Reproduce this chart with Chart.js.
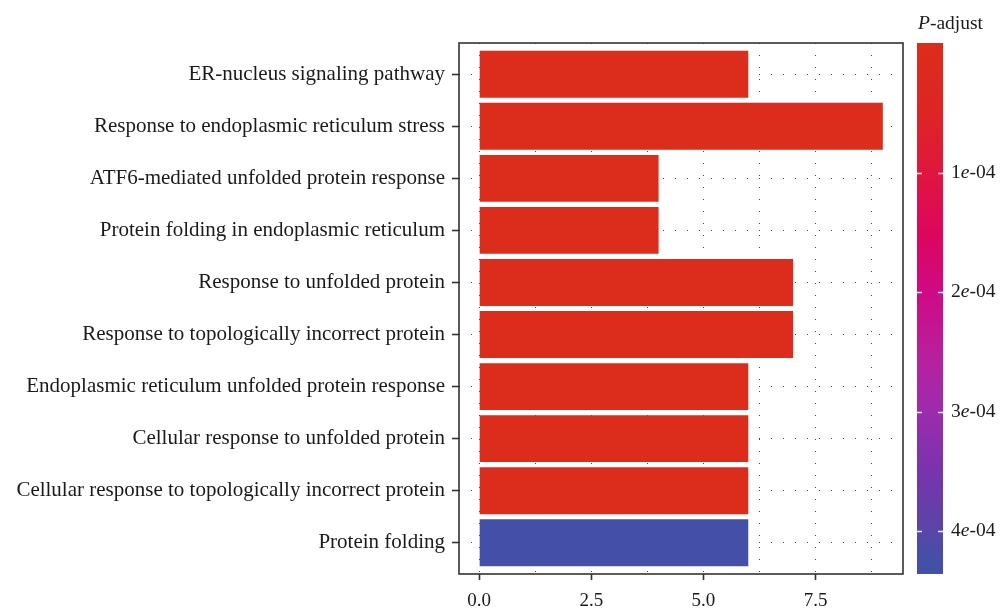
<!DOCTYPE html>
<html>
<head>
<meta charset="utf-8">
<title>GO enrichment bar chart</title>
<script src="https://cdn.jsdelivr.net/npm/chart.js@4.4.1/dist/chart.umd.min.js"></script>
<style>
  html, body { margin: 0; padding: 0; background: #ffffff; }
  #wrap { width: 1002px; height: 614px; }
</style>
</head>
<body>
<div id="wrap"><canvas id="chart" width="1002" height="614"></canvas></div>
<script>
// GO terms, listed top to bottom
const terms = [
  'ER-nucleus signaling pathway',
  'Response to endoplasmic reticulum stress',
  'ATF6-mediated unfolded protein response',
  'Protein folding in endoplasmic reticulum',
  'Response to unfolded protein',
  'Response to topologically incorrect protein',
  'Endoplasmic reticulum unfolded protein response',
  'Cellular response to unfolded protein',
  'Cellular response to topologically incorrect protein',
  'Protein folding'
];

// gene counts per term
const counts = [6, 9, 4, 4, 7, 7, 6, 6, 6, 6];

// adjusted p-values per term
const pAdjust = [2.3e-6, 2.3e-6, 3.1e-6, 3.1e-6, 2.6e-6, 2.6e-6, 4.0e-6, 4.0e-6, 4.0e-6, 4.25e-4];

// count axis ticks (labelled) and the extra grid positions between them
const countTicks = [0, 2.5, 5, 7.5];
const countMinorTicks = [1.25, 3.75, 6.25, 8.75];

// colour bar breaks
const pTicks = [1e-4, 2e-4, 3e-4, 4e-4];
const pTickLabels = ['1e-04', '2e-04', '3e-04', '4e-04'];

// colour ramp from low p (red) to high p (blue)
const rampStops = [
  [0.00, [220, 44, 28]],
  [0.12, [222, 36, 38]],
  [0.23, [224, 22, 62]],
  [0.36, [220, 6, 96]],
  [0.47, [207, 10, 134]],
  [0.60, [184, 32, 158]],
  [0.70, [158, 43, 173]],
  [0.82, [122, 51, 172]],
  [0.94, [90, 69, 168]],
  [1.00, [68, 80, 168]]
];

const pMin = Math.min(...pAdjust);
const pMax = Math.max(...pAdjust);

function rampColor(f) {
  f = Math.max(0, Math.min(1, f));
  for (let i = 1; i < rampStops.length; i++) {
    const [f1, c1] = rampStops[i];
    const [f0, c0] = rampStops[i - 1];
    if (f <= f1) {
      const t = (f - f0) / (f1 - f0);
      const c = c0.map((v, k) => Math.round(v + (c1[k] - v) * t));
      return `rgb(${c[0]},${c[1]},${c[2]})`;
    }
  }
  const c = rampStops[rampStops.length - 1][1];
  return `rgb(${c[0]},${c[1]},${c[2]})`;
}
const pFrac = p => (p - pMin) / (pMax - pMin);

const FONT = "'Liberation Serif', 'Times New Roman', serif";
const INK = '#1a1a1a';
const GRID = 'rgba(50,50,50,0.9)';

// panel frame drawn on all four sides
const framePlugin = {
  id: 'frame',
  afterDatasetsDraw(chart) {
    const a = chart.chartArea;
    const ctx = chart.ctx;
    ctx.save();
    ctx.strokeStyle = '#333333';
    ctx.lineWidth = 1.6;
    ctx.strokeRect(a.left, a.top, a.right - a.left, a.bottom - a.top);
    ctx.restore();
  }
};

// continuous colour legend for the adjusted p-value
const colorBarPlugin = {
  id: 'colorBar',
  afterDraw(chart) {
    const a = chart.chartArea;
    const ctx = chart.ctx;
    const x0 = a.right + 14, w = 26;
    const top = a.top, h = a.bottom - a.top;
    const yOf = p => top + h * (0.025 + 0.95 * pFrac(p));

    ctx.save();
    const g = ctx.createLinearGradient(0, top, 0, top + h);
    rampStops.forEach(([f]) => g.addColorStop(0.025 + 0.95 * f, rampColor(f)));
    g.addColorStop(0, rampColor(0));
    g.addColorStop(1, rampColor(1));
    ctx.fillStyle = g;
    ctx.fillRect(x0, top, w, h);

    // white break marks on both edges
    ctx.strokeStyle = 'rgba(255,255,255,0.9)';
    ctx.lineWidth = 1.5;
    pTicks.forEach(p => {
      const y = Math.round(yOf(p)) + 0.5;
      ctx.beginPath();
      ctx.moveTo(x0, y); ctx.lineTo(x0 + 5, y);
      ctx.moveTo(x0 + w - 5, y); ctx.lineTo(x0 + w, y);
      ctx.stroke();
    });

    // break labels, exponent marker in italics
    ctx.fillStyle = INK;
    ctx.textBaseline = 'middle';
    ctx.textAlign = 'left';
    pTicks.forEach((p, i) => {
      const y = yOf(p);
      const [mant, exp] = pTickLabels[i].split('e');
      let x = x0 + w + 8;
      ctx.font = `19.5px ${FONT}`;
      ctx.fillText(mant, x, y); x += ctx.measureText(mant).width;
      ctx.font = `italic 19.5px ${FONT}`;
      ctx.fillText('e', x, y); x += ctx.measureText('e').width;
      ctx.font = `19.5px ${FONT}`;
      ctx.fillText(exp, x, y);
    });

    // legend title
    ctx.textBaseline = 'alphabetic';
    let tx = x0 + 1;
    const ty = 29;
    ctx.font = `italic 19.5px ${FONT}`;
    ctx.fillText('P', tx, ty); tx += ctx.measureText('P').width;
    ctx.font = `19.5px ${FONT}`;
    ctx.fillText('-adjust', tx, ty);
    ctx.restore();
  }
};

const isMajor = v => countTicks.some(t => Math.abs(t - v) < 1e-9);
const gridPositions = [...countTicks, ...countMinorTicks].sort((a, b) => a - b);

new Chart(document.getElementById('chart'), {
  type: 'bar',
  data: {
    datasets: [{
      data: counts.map((v, i) => ({ x: v, y: i + 1 })),
      backgroundColor: pAdjust.map(p => rampColor(pFrac(p))),
      borderWidth: 0,
      barPercentage: 0.9,
      categoryPercentage: 1.0
    }]
  },
  options: {
    indexAxis: 'y',
    responsive: false,
    animation: false,
    events: [],
    layout: { padding: { left: 0, top: 43, right: 99, bottom: 0 } },
    plugins: { legend: { display: false }, tooltip: { enabled: false } },
    scales: {
      x: {
        type: 'linear',
        min: -0.45,
        max: 9.45,
        offset: false,
        afterBuildTicks: s => { s.ticks = gridPositions.map(v => ({ value: v })); },
        afterFit: s => { s.height = 40; },
        border: { display: false, dash: [1, 11] },
        grid: {
          offset: false,
          color: GRID,
          lineWidth: 1,
          drawTicks: true,
          tickLength: 6,
          tickWidth: 1.6,
          tickColor: c => isMajor(c.tick.value) ? '#333333' : 'rgba(0,0,0,0)',
          tickBorderDash: []
        },
        ticks: {
          autoSkip: false,
          maxRotation: 0,
          padding: 10,
          color: INK,
          font: { family: FONT, size: 19 },
          callback: v => isMajor(v) ? v.toFixed(1) : ''
        }
      },
      y: {
        type: 'linear',
        reverse: true,
        min: 0.4,
        max: 10.6,
        offset: false,
        afterBuildTicks: s => { s.ticks = terms.map((_, i) => ({ value: i + 1 })); },
        afterFit: s => { s.width = 459; },
        border: { display: false, dash: [1, 11] },
        grid: {
          offset: false,
          color: GRID,
          lineWidth: 1,
          drawTicks: true,
          tickLength: 7,
          tickWidth: 1.6,
          tickColor: '#333333',
          tickBorderDash: []
        },
        ticks: {
          autoSkip: false,
          padding: 7,
          color: INK,
          font: { family: FONT, size: 21 },
          callback: v => terms[Math.round(v) - 1] || ''
        }
      }
    }
  },
  plugins: [framePlugin, colorBarPlugin]
});
</script>
</body>
</html>
